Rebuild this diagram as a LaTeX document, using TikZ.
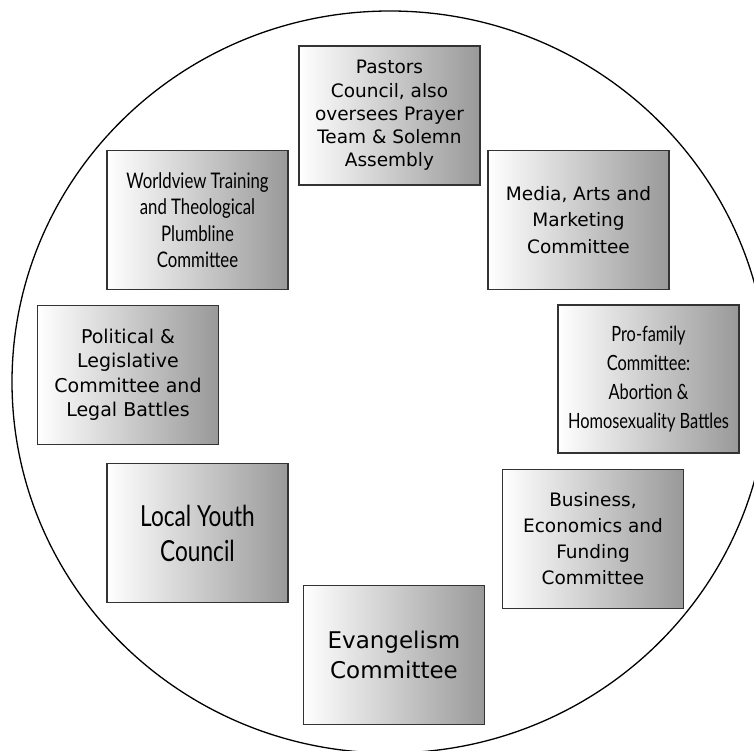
\documentclass[tikz,border=0pt]{standalone}
\usepackage{fontspec}
\setmainfont{DejaVu Sans}
\newfontfamily\narrowfont[FakeStretch=0.78]{Lato}
\usetikzlibrary{shapes}

\begin{document}
\begin{tikzpicture}[x=1pt,y=-1pt,
    comm/.style={rectangle, draw=black!80, line width=1.2pt, left color=white, right color=black!40,
      minimum width=181pt, minimum height=139pt, align=center, inner sep=2pt}]
  \useasboundingbox (0,0) rectangle (754,751);
  \clip (0,0) rectangle (754,751);
  \draw [line width=1.3pt] (390,382) ellipse [x radius=378, y radius=371];

  \node [comm, font=\fontsize{18.5}{23.3}\selectfont] (pastors) at (389.5,115.5)
    {Pastors\\Council, also\\oversees Prayer\\Team \& Solemn\\Assembly};
  \node [comm, font=\narrowfont\fontsize{21.5}{26.4}\selectfont] (worldview) at (197.5,220)
    {Worldview Training\\and Theological\\Plumbline\\Committee};
  \node [comm, font=\fontsize{18.5}{26.4}\selectfont] (media) at (578.5,220)
    {Media, Arts and\\Marketing\\Committee};
  \node [comm, font=\fontsize{19}{24.5}\selectfont] (political) at (128,375)
    {Political \&\\Legislative\\Committee and\\Legal Battles};
  \node [comm, minimum height=148pt, font=\narrowfont\fontsize{21}{29}\selectfont] (profamily) at (648.5,379)
    {Pro-family\\Committee:\\Abortion \&\\Homosexuality Battles};
  \node [comm, font=\narrowfont\fontsize{29}{35}\selectfont] (youth) at (197.5,533)
    {Local Youth\\Council};
  \node [comm, font=\fontsize{18.5}{26}\selectfont] (business) at (593,539)
    {Business,\\Economics and\\Funding\\Committee};
  \node [comm, font=\fontsize{23}{30}\selectfont] (evangelism) at (394,655)
    {Evangelism\\Committee};
\end{tikzpicture}
\end{document}
